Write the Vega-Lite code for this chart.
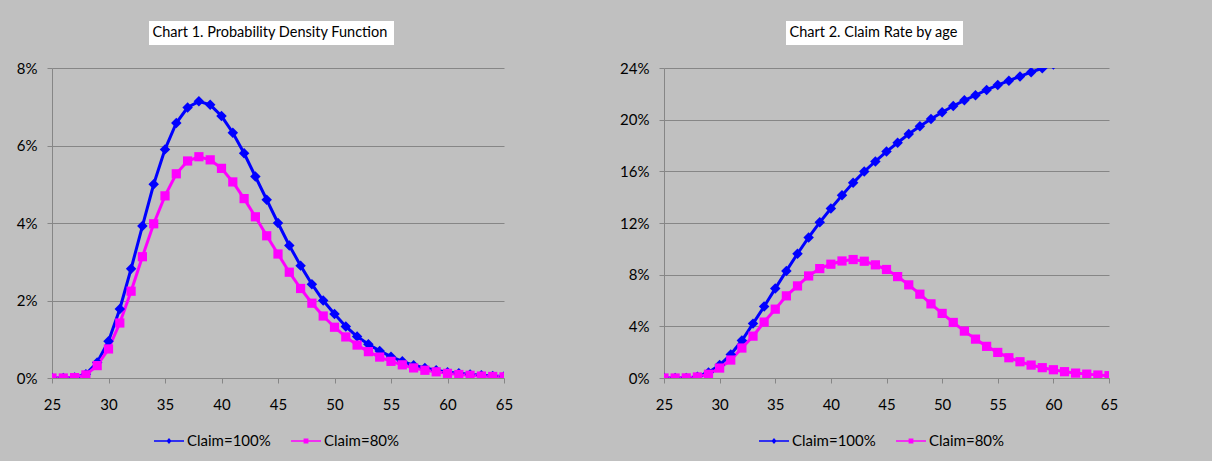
{
  "$schema": "https://vega.github.io/schema/vega-lite/v6.json",
  "background": "#c0c0c0",
  "padding": {"left": 16, "top": 21, "right": 95, "bottom": 12},
  "autosize": "pad",
  "bounds": "flush",
  "spacing": 160,
  "resolve": {"scale": {"color": "independent", "shape": "independent"}, "legend": {"color": "independent", "shape": "independent"}},
  "config": {
    "font": "Lato",
    "view": {"stroke": null, "fill": "white"},
    "axis": {"labelFontSize": 15, "labelColor": "black", "domainColor": "#868686", "tickColor": "#868686", "gridColor": "#868686", "title": null, "labelFont": "Lato"},
    "legend": {"labelFont": "Lato", "labelColor": "black"}
  },
  "datasets": {
    "pdf": [
      {"age":25,"Claim=100%":0,"Claim=80%":0},
      {"age":26,"Claim=100%":0,"Claim=80%":0},
      {"age":27,"Claim=100%":0.0001,"Claim=80%":0.0001},
      {"age":28,"Claim=100%":0.001,"Claim=80%":0.0008},
      {"age":29,"Claim=100%":0.004,"Claim=80%":0.0032},
      {"age":30,"Claim=100%":0.0095,"Claim=80%":0.0075},
      {"age":31,"Claim=100%":0.0178,"Claim=80%":0.0142},
      {"age":32,"Claim=100%":0.0282,"Claim=80%":0.0224},
      {"age":33,"Claim=100%":0.0392,"Claim=80%":0.0313},
      {"age":34,"Claim=100%":0.05,"Claim=80%":0.0398},
      {"age":35,"Claim=100%":0.059,"Claim=80%":0.047},
      {"age":36,"Claim=100%":0.0658,"Claim=80%":0.0527},
      {"age":37,"Claim=100%":0.0698,"Claim=80%":0.056},
      {"age":38,"Claim=100%":0.0714,"Claim=80%":0.0571},
      {"age":39,"Claim=100%":0.0705,"Claim=80%":0.0563},
      {"age":40,"Claim=100%":0.0676,"Claim=80%":0.0541},
      {"age":41,"Claim=100%":0.0633,"Claim=80%":0.0506},
      {"age":42,"Claim=100%":0.058,"Claim=80%":0.0463},
      {"age":43,"Claim=100%":0.052,"Claim=80%":0.0416},
      {"age":44,"Claim=100%":0.046,"Claim=80%":0.0367},
      {"age":45,"Claim=100%":0.04,"Claim=80%":0.032},
      {"age":46,"Claim=100%":0.0342,"Claim=80%":0.0273},
      {"age":47,"Claim=100%":0.029,"Claim=80%":0.0231},
      {"age":48,"Claim=100%":0.0242,"Claim=80%":0.0193},
      {"age":49,"Claim=100%":0.02,"Claim=80%":0.016},
      {"age":50,"Claim=100%":0.0165,"Claim=80%":0.0131},
      {"age":51,"Claim=100%":0.0133,"Claim=80%":0.0106},
      {"age":52,"Claim=100%":0.0107,"Claim=80%":0.0085},
      {"age":53,"Claim=100%":0.0087,"Claim=80%":0.0068},
      {"age":54,"Claim=100%":0.007,"Claim=80%":0.0054},
      {"age":55,"Claim=100%":0.0055,"Claim=80%":0.0043},
      {"age":56,"Claim=100%":0.0043,"Claim=80%":0.0034},
      {"age":57,"Claim=100%":0.0033,"Claim=80%":0.0026},
      {"age":58,"Claim=100%":0.0026,"Claim=80%":0.002},
      {"age":59,"Claim=100%":0.002,"Claim=80%":0.0016},
      {"age":60,"Claim=100%":0.0015,"Claim=80%":0.0012},
      {"age":61,"Claim=100%":0.0012,"Claim=80%":0.0009},
      {"age":62,"Claim=100%":0.0009,"Claim=80%":0.0007},
      {"age":63,"Claim=100%":0.0007,"Claim=80%":0.0005},
      {"age":64,"Claim=100%":0.0005,"Claim=80%":0.0004},
      {"age":65,"Claim=100%":0.0004,"Claim=80%":0.0003}
    ],
    "rate": [
      {"age":25,"Claim=100%":0,"Claim=80%":0},
      {"age":26,"Claim=100%":0,"Claim=80%":0},
      {"age":27,"Claim=100%":0.0001,"Claim=80%":0.0001},
      {"age":28,"Claim=100%":0.001,"Claim=80%":0.0008},
      {"age":29,"Claim=100%":0.0042,"Claim=80%":0.0029},
      {"age":30,"Claim=100%":0.01,"Claim=80%":0.0077},
      {"age":31,"Claim=100%":0.0182,"Claim=80%":0.0139},
      {"age":32,"Claim=100%":0.029,"Claim=80%":0.0232},
      {"age":33,"Claim=100%":0.0421,"Claim=80%":0.0324},
      {"age":34,"Claim=100%":0.0554,"Claim=80%":0.0433},
      {"age":35,"Claim=100%":0.0692,"Claim=80%":0.0533},
      {"age":36,"Claim=100%":0.0829,"Claim=80%":0.0636},
      {"age":37,"Claim=100%":0.0962,"Claim=80%":0.0713},
      {"age":38,"Claim=100%":0.1088,"Claim=80%":0.079},
      {"age":39,"Claim=100%":0.1205,"Claim=80%":0.0847},
      {"age":40,"Claim=100%":0.1312,"Claim=80%":0.0881},
      {"age":41,"Claim=100%":0.1414,"Claim=80%":0.0906},
      {"age":42,"Claim=100%":0.1511,"Claim=80%":0.0917},
      {"age":43,"Claim=100%":0.1599,"Claim=80%":0.0904},
      {"age":44,"Claim=100%":0.1677,"Claim=80%":0.0876},
      {"age":45,"Claim=100%":0.1753,"Claim=80%":0.084},
      {"age":46,"Claim=100%":0.1821,"Claim=80%":0.0785},
      {"age":47,"Claim=100%":0.1889,"Claim=80%":0.0721},
      {"age":48,"Claim=100%":0.1949,"Claim=80%":0.0649},
      {"age":49,"Claim=100%":0.2005,"Claim=80%":0.0574},
      {"age":50,"Claim=100%":0.2057,"Claim=80%":0.05},
      {"age":51,"Claim=100%":0.2106,"Claim=80%":0.043},
      {"age":52,"Claim=100%":0.215,"Claim=80%":0.0363},
      {"age":53,"Claim=100%":0.2189,"Claim=80%":0.0301},
      {"age":54,"Claim=100%":0.223,"Claim=80%":0.0245},
      {"age":55,"Claim=100%":0.2268,"Claim=80%":0.0198},
      {"age":56,"Claim=100%":0.2302,"Claim=80%":0.0157},
      {"age":57,"Claim=100%":0.2335,"Claim=80%":0.0126},
      {"age":58,"Claim=100%":0.2368,"Claim=80%":0.01},
      {"age":59,"Claim=100%":0.2398,"Claim=80%":0.008},
      {"age":60,"Claim=100%":0.2428,"Claim=80%":0.0064},
      {"age":61,"Claim=100%":0.2456,"Claim=80%":0.0049},
      {"age":62,"Claim=100%":0.2483,"Claim=80%":0.0038},
      {"age":63,"Claim=100%":0.2509,"Claim=80%":0.003},
      {"age":64,"Claim=100%":0.2533,"Claim=80%":0.0023},
      {"age":65,"Claim=100%":0.2556,"Claim=80%":0.0018}
    ]
  },
  "hconcat": [
    {
      "width": 452,
      "height": 310,
      "data": {"name": "pdf"},
      "transform": [{"fold": ["Claim=100%", "Claim=80%"], "as": ["series", "value"]}],
      "layer": [
        {
          "mark": {"type": "line", "strokeWidth": 3, "clip": true},
          "encoding": {
            "x": {"field": "age", "type": "quantitative", "scale": {"domain": [25, 65], "nice": false, "zero": false}, "axis": {"values": [25,30,35,40,45,50,55,60,65], "grid": false, "tickSize": 5, "labelPadding": 14, "labelFlush": false}},
            "y": {"field": "value", "type": "quantitative", "scale": {"domain": [0, 0.08], "nice": false}, "axis": {"values": [0,0.02,0.04,0.06,0.08], "format": ".0%", "grid": true, "tickSize": 5, "labelPadding": 10}},
            "color": {"field": "series", "type": "nominal", "scale": {"domain": ["Claim=100%", "Claim=80%"], "range": ["#0000ff", "#ff00ff"]},
              "legend": {"orient": "none", "legendX": 102, "legendY": 358, "direction": "horizontal", "title": null, "symbolSize": 900, "labelFontSize": 15, "labelOffset": 3, "columnPadding": 20, "padding": 0, "symbolStrokeWidth": 0,
                "encode": {"symbols": {"update": {
                  "shape": {"signal": "datum.value === 'Claim=100%' ? 'M-1,-0.055H1V0.055H-1Z M0,-0.2L0.17,0L0,0.2L-0.17,0Z' : 'M-1,-0.055H1V0.055H-1Z M-0.16,-0.16H0.16V0.16H-0.16Z'"},
                  "fill": {"signal": "datum.value === 'Claim=100%' ? '#0000ff' : '#ff00ff'"},
                  "fillOpacity": {"value": 1},
                  "strokeWidth": {"value": 0}
                }}}}}
          }
        },
        {
          "transform": [{"filter": "datum.series === 'Claim=100%'"}],
          "mark": {"type": "point", "shape": "diamond", "filled": true, "size": 110, "color": "#0000ff", "opacity": 1, "clip": true},
          "encoding": {
            "x": {"field": "age", "type": "quantitative"},
            "y": {"field": "value", "type": "quantitative"}
          }
        },
        {
          "transform": [{"filter": "datum.series === 'Claim=80%'"}],
          "mark": {"type": "point", "shape": "square", "filled": true, "size": 85, "color": "#ff00ff", "opacity": 1, "clip": true},
          "encoding": {
            "x": {"field": "age", "type": "quantitative"},
            "y": {"field": "value", "type": "quantitative"}
          }
        },
        {
          "data": {"values": [{"t": "Chart 1. Probability Density Function"}]},
          "mark": {"type": "point", "opacity": 0},
          "encoding": {
            "shape": {"field": "t", "type": "nominal", "legend": {"orient": "none", "legendX": 97, "legendY": -47, "title": null, "fillColor": "white", "padding": 5, "symbolSize": 0, "symbolOpacity": 0, "labelOffset": -16, "labelFontSize": 14.5, "labelLimit": 500}}
          }
        }
      ]
    },
    {
      "width": 445,
      "height": 310,
      "data": {"name": "rate"},
      "transform": [{"fold": ["Claim=100%", "Claim=80%"], "as": ["series", "value"]}],
      "layer": [
        {
          "mark": {"type": "line", "strokeWidth": 3, "clip": true},
          "encoding": {
            "x": {"field": "age", "type": "quantitative", "scale": {"domain": [25, 65], "nice": false, "zero": false}, "axis": {"values": [25,30,35,40,45,50,55,60,65], "grid": false, "tickSize": 5, "labelPadding": 14, "labelFlush": false}},
            "y": {"field": "value", "type": "quantitative", "scale": {"domain": [0, 0.24], "nice": false}, "axis": {"values": [0,0.04,0.08,0.12,0.16,0.2,0.24], "format": ".0%", "grid": true, "tickSize": 5, "labelPadding": 10}},
            "color": {"field": "series", "type": "nominal", "scale": {"domain": ["Claim=100%", "Claim=80%"], "range": ["#0000ff", "#ff00ff"]},
              "legend": {"orient": "none", "legendX": 95, "legendY": 358, "direction": "horizontal", "title": null, "symbolSize": 900, "labelFontSize": 15, "labelOffset": 3, "columnPadding": 20, "padding": 0, "symbolStrokeWidth": 0,
                "encode": {"symbols": {"update": {
                  "shape": {"signal": "datum.value === 'Claim=100%' ? 'M-1,-0.055H1V0.055H-1Z M0,-0.2L0.17,0L0,0.2L-0.17,0Z' : 'M-1,-0.055H1V0.055H-1Z M-0.16,-0.16H0.16V0.16H-0.16Z'"},
                  "fill": {"signal": "datum.value === 'Claim=100%' ? '#0000ff' : '#ff00ff'"},
                  "fillOpacity": {"value": 1},
                  "strokeWidth": {"value": 0}
                }}}}}
          }
        },
        {
          "transform": [{"filter": "datum.series === 'Claim=100%'"}],
          "mark": {"type": "point", "shape": "diamond", "filled": true, "size": 110, "color": "#0000ff", "opacity": 1, "clip": true},
          "encoding": {
            "x": {"field": "age", "type": "quantitative"},
            "y": {"field": "value", "type": "quantitative"}
          }
        },
        {
          "transform": [{"filter": "datum.series === 'Claim=80%'"}],
          "mark": {"type": "point", "shape": "square", "filled": true, "size": 85, "color": "#ff00ff", "opacity": 1, "clip": true},
          "encoding": {
            "x": {"field": "age", "type": "quantitative"},
            "y": {"field": "value", "type": "quantitative"}
          }
        },
        {
          "data": {"values": [{"t": "Chart 2. Claim Rate by age"}]},
          "mark": {"type": "point", "opacity": 0},
          "encoding": {
            "shape": {"field": "t", "type": "nominal", "legend": {"orient": "none", "legendX": 122, "legendY": -47, "title": null, "fillColor": "white", "padding": 5, "symbolSize": 0, "symbolOpacity": 0, "labelOffset": -16, "labelFontSize": 14.5, "labelLimit": 500}}
          }
        }
      ]
    }
  ]
}
